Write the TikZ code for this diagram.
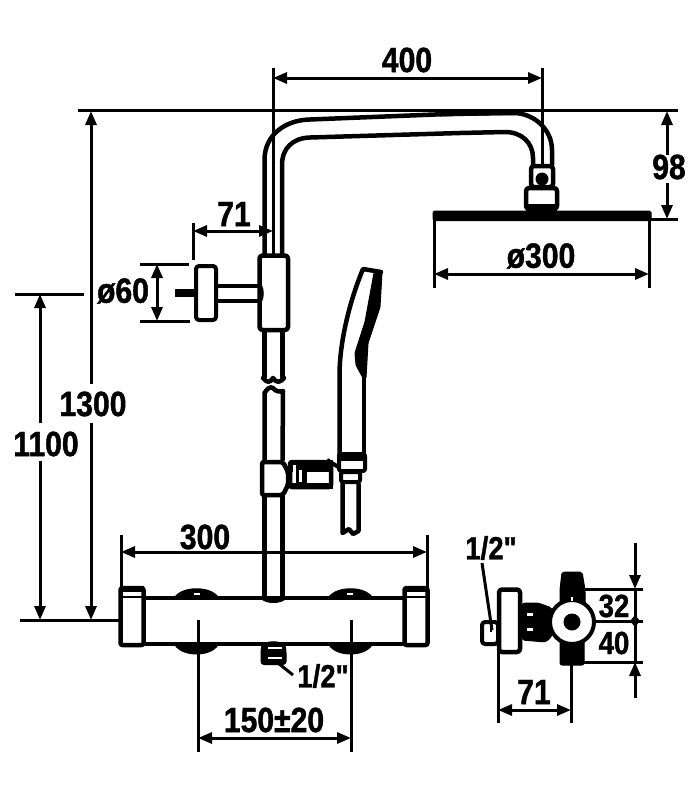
\documentclass[tikz,border=0pt]{standalone}
\usepackage{fontspec}
\newfontfamily\dimfont{Liberation Sans}[FakeStretch=0.86,FakeBold=1.2]
\usetikzlibrary{arrows.meta}
\tikzset{
    part/.style={line width=4.5pt, line join=round, line cap=round},
    thickpart/.style={part, rounded corners=3pt, fill=white},
    solid part/.style={fill=black, draw=black, line width=1pt, line join=round},
    dimline/.style={line width=3pt},
    dimboth/.style={dimline, {Triangle[length=14pt,width=11pt]}-{Triangle[length=14pt,width=11pt]}},
    dimto/.style={dimline, -{Triangle[length=14pt,width=11pt]}},
    extline/.style={line width=3pt},
    dimtext/.style={font=\dimfont\bfseries\fontsize{35}{35}\selectfont, inner sep=0pt},
    smalltext/.style={font=\dimfont\bfseries\fontsize{32}{32}\selectfont, inner sep=0pt}
}

\begin{document}
\begin{tikzpicture}[x=1pt,y=-1pt]
    \useasboundingbox (0,0) rectangle (700,800);

    % shower arm, outer and inner wall
    \draw[part] (264.5,254) -- (264.5,160) .. controls (264.5,135) and (285,120) .. (310,119.5) -- (460,113.5) -- (515,113) .. controls (535,114) and (552,130) .. (552,150) -- (552,165);
    \draw[part] (282,254) -- (282,165) .. controls (282,148) and (293,138) .. (310,137.5) -- (460,133) -- (505,132) .. controls (522,132) and (533,143) .. (533,158) -- (533,165);
    \fill (440,111.5) -- (515,110.5) -- (515,115) -- (440,116.5) -- cycle;

    % head joint and plate
    \draw[thickpart] (531,166) rectangle (553,187);
    \fill (542,179) circle (6.5);
    \draw[thickpart] (526,188) rectangle (557,209);
    \fill (526,204) rectangle (557,211);
    \draw[solid part, rounded corners=1.5pt] (433,211) rectangle (651,220.5);

    % upper slider and wall mount
    \draw[part] (218,286) -- (261,286);
    \draw[part] (218,301) -- (261,301);
    \draw[line width=8pt] (175,293) -- (194,293);
    \draw[thickpart, line width=4pt] (196,266) rectangle (216,320);
    \draw[thickpart] (259.5,255.5) rectangle (288,330);
    \draw[line width=2.5pt] (261,286) .. controls (263,290) and (263,297) .. (261,301);

    % rail with break
    \draw[part] (264.5,332) -- (264.5,377);
    \draw[part] (282.5,332) -- (282.5,377);
    \draw[part] (263,378) .. controls (267,383) and (270,383) .. (273,378) .. controls (276,383) and (280,383) .. (284,378);
    \draw[part] (264.5,460) -- (264.5,393) .. controls (267,389) and (270,386) .. (273,388) .. controls (276,392) and (280,392) .. (283,391) -- (282.5,460);
    \draw[part] (264.5,496) -- (264.5,597);
    \draw[part] (282.5,496) -- (282.5,597);

    % hand shower
    \draw[part] (339.5,455) -- (339.5,373) .. controls (340,340) and (350,300) .. (363,269) -- (381,272);
    \draw[solid part, rounded corners=1pt] (374,273) -- (382,272) -- (380,307) -- (368,343) -- (366,378) -- (363,378) -- (356,365) -- (355,353) -- (365,322) -- cycle;
    \draw[part] (364,376) -- (364,455);

    % lower slider, holder and hose
    \draw[thickpart, rounded corners=2pt] (262,462) -- (283,462) -- (288,472) -- (288,485) -- (283,495) -- (262,495) -- cycle;
    \draw[thickpart, rounded corners=2pt] (290,462) rectangle (331,487);
    \fill (290,460) rectangle (333,472);
    \fill (290,483) rectangle (333,489);
    \fill (296,462) rectangle (307,486);
    \fill[white] (293,465) rectangle (296,482);
    \fill[white] (299,470) rectangle (302,482);
    \draw[line width=4pt] (327,460) -- (340,468);
    \draw[part] (342.5,484) -- (342.5,533) -- (349,529) -- (353,534) -- (358.5,531) -- (358.5,484);
    \draw[thickpart, rounded corners=2pt, line width=4pt] (341,472) rectangle (360,482);
    \draw[thickpart, rounded corners=2pt, line width=4pt] (339,454) rectangle (365,471);
    \fill (339,454) rectangle (365,461);

    % mixer bar
    \draw[solid part] (175,597) .. controls (183,586) and (210,586) .. (218,597) -- cycle;
    \draw[solid part] (329,597) .. controls (337,586) and (364,586) .. (372,597) -- cycle;
    \draw[solid part] (175,645) .. controls (183,657) and (210,657) .. (218,645) -- cycle;
    \draw[solid part] (329,645) .. controls (337,657) and (364,657) .. (372,645) -- cycle;
    \fill[white] (194,593) rectangle (200,595);
    \fill[white] (347,593) rectangle (353,595);
    \draw[solid part] (261,598) .. controls (265,604) and (282,604) .. (286,598) -- cycle;
    \draw[part] (145,598) -- (402,598);
    \draw[part] (145,644) -- (402,644);
    \foreach \capx in {120.5,404.5} {
        \draw[part, rounded corners=2pt] (\capx,588) rectangle ++(23,57);
        \draw[line width=2pt] (\capx,597) -- ++(23,0);
        \fill (\capx,586) rectangle ++(23,6);
    }
    % valve under the bar
    \draw[solid part, rounded corners=3pt] (261,664.5) -- (261,650) .. controls (263,640) and (284,640) .. (286,650) -- (286,664.5) -- cycle;
    \fill[white] (268,646.5) rectangle (282,648.5);
    \fill[white] (268,656.5) rectangle (282,658.5);
    \draw[line width=3pt] (278,663) -- (293,675);

    % side view
    \draw[thickpart, line width=4pt] (482,622) rectangle (498,644);
    \fill (490,625) rectangle (492,632);
    \draw[solid part, rounded corners=3pt] (522,603) -- (538,603) -- (552,608) -- (552,636) -- (546,642) -- (522,640) -- cycle;
    \fill[white] (527,613) rectangle (533,616);
    \fill[white] (527,628) rectangle (533,631);
    \draw[thickpart, line width=4.5pt] (499,589.5) rectangle (520,652);
    \draw[solid part, rounded corners=2pt] (562,572) -- (582,572) -- (585,590) -- (585,605) -- (560,605) -- (560,590) -- cycle;
    \draw[solid part, rounded corners=2pt] (560,640) rectangle (584,665);
    \draw[line width=4pt, fill=white] (572,622) circle (22);
    \fill (572,622) circle (8.5);
    \draw[white, line width=1.2pt] (572,597) -- (572,601);

    % dimensions, long extension lines
    \draw[extline] (78,110.5) -- (678,110.5);
    \draw[extline] (273,68) -- (273,254);
    \draw[extline] (542,68) -- (542,165);
    \draw[extline] (650,219) -- (678,219);
    \draw[extline] (434,220) -- (434,288);
    \draw[extline] (649,220) -- (649,288);
    \draw[extline] (193,223) -- (193,260);
    \draw[extline] (140,264) -- (189,264);
    \draw[extline] (140,321) -- (190,321);
    \draw[extline] (15,294) -- (84,294);
    \draw[extline] (20,620) -- (120,620);
    \draw[extline] (121,535) -- (121,588);
    \draw[extline] (427,535) -- (427,588);
    \draw[extline] (198,620) -- (198,752);
    \draw[extline] (351,620) -- (351,752);
    \draw[extline] (583,589) -- (643,589);
    \draw[extline] (594,621) -- (643,621);
    \draw[extline] (583,662) -- (643,662);
    \draw[extline] (498,650) -- (498,723);
    \draw[extline] (571,662) -- (571,723);
    \draw[extline] (482,563) -- (492,630);

    % dimensions with arrows
    \draw[dimboth] (273,78) -- (542,78);
    \draw[dimboth] (434,274) -- (649,274);
    \draw[dimboth] (193,231) -- (273,231);
    \draw[dimboth] (157,264) -- (157,321);
    \draw[dimboth] (121,552) -- (427,552);
    \draw[dimboth] (198,738) -- (351,738);
    \draw[dimboth] (498,710) -- (571,710);
    \draw[dimto] (667,155) -- (667,111);
    \draw[dimto] (667,183) -- (667,219);
    \draw[dimto] (91,384) -- (91,111);
    \draw[dimto] (91,423) -- (91,620);
    \draw[dimto] (40,423) -- (40,294);
    \draw[dimto] (40,461) -- (40,620);
    \draw[dimto] (635,543) -- (635,589);
    \draw[dimto] (635,698) -- (635,662);
    \draw[extline] (635,589) -- (635,662);
    \fill (635,615) -- (640,621) -- (635,627) -- (630,621) -- cycle;

    % labels
    \node[dimtext] (top400) at (407,60) {400};
    \node[dimtext] (drop98) at (669,167) {98};
    \node[dimtext] (head300) at (541,256) {ø300};
    \node[dimtext] (arm71) at (234,214) {71};
    \node[dimtext] (plate60) at (123,291) {ø60};
    \node[dimtext] (height1300) at (93,404) {1300};
    \node[dimtext] (height1100) at (46,444) {1100};
    \node[dimtext] (bar300) at (205,537) {300};
    \node[dimtext] (inlet150) at (274,720) {150±20};
    \node[smalltext] (valvehalf) at (323,676) {1/2"};
    \node[smalltext] (sidehalf) at (491,548) {1/2"};
    \node[smalltext] (side32) at (614,606) {32};
    \node[smalltext] (side40) at (614,643) {40};
    \node[dimtext] (side71) at (534,692) {71};
\end{tikzpicture}
\end{document}
